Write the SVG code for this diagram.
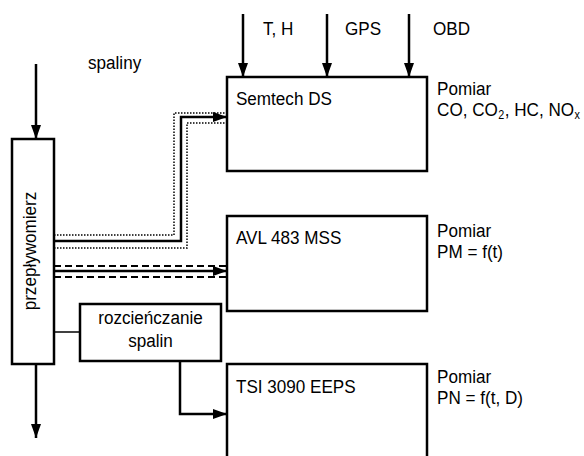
<svg xmlns="http://www.w3.org/2000/svg" width="584" height="456" viewBox="0 0 584 456">
<defs>
<marker id="ah" markerUnits="userSpaceOnUse" markerWidth="14" markerHeight="10" refX="14" refY="5" orient="auto">
<path d="M0,0 L14,5 L0,10 z" fill="#000"/>
</marker>
<style>
text{font-family:"Liberation Sans",Arial,sans-serif;font-size:19px;fill:#000}
.box{fill:#fff;stroke:#000;stroke-width:2.5}
.arr{fill:none;stroke:#000;stroke-width:2.5;marker-end:url(#ah)}
.thin{fill:none;stroke:#000;stroke-width:1.5}
.dot{fill:none;stroke:#000;stroke-width:1.5;stroke-dasharray:1.5 1.5}
.dash{fill:none;stroke:#000;stroke-width:2;stroke-dasharray:7 4}
.sub{font-size:12px}
</style>
</defs>
<rect width="584" height="456" fill="#fff"/>
<g id="connectors">
<path class="arr" d="M36,64 V139"/>
<path class="arr" d="M36,364 V438"/>
<path class="arr" d="M243,14 V77"/>
<path class="arr" d="M327,14 V77"/>
<path class="arr" d="M409,14 V77"/>
<path class="dot" d="M54,235 H174 V113 H227"/>
<path class="arr" d="M54,241 H181 V117 H227"/>
<path class="dot" d="M54,248 H187 V123 H227"/>
<path class="dash" d="M54,266 H227"/>
<path class="arr" d="M54,271 H227"/>
<path class="dash" d="M54,277 H227"/>
<path class="thin" d="M54,332 H80"/>
<path class="arr" d="M180,361 V414 H227"/>
</g>
<g id="labels" transform="scale(0.9 1)">
<text x="97.8" y="69">spaliny</text>
<text x="292.2" y="35">T, H</text>
<text x="383.3" y="35">GPS</text>
<text x="481.1" y="35">OBD</text>
</g>
<g id="przeplywomierz">
<rect class="box" x="12" y="139" width="42" height="225"/>
<text text-anchor="middle" transform="translate(36 251) rotate(-90) scale(0.9 1)">przepływomierz</text>
</g>
<g id="semtech">
<rect class="box" x="227" y="77" width="200" height="94"/>
<g transform="scale(0.9 1)">
<text x="262.2" y="105">Semtech DS</text>
<text x="485.6" y="95">Pomiar</text>
<text x="485.6" y="116" font-size="18">CO, CO<tspan class="sub" dy="3" dx="0.5">2</tspan><tspan dy="-3" dx="0.5">, HC, NO</tspan><tspan class="sub" dy="3" dx="0.5">x</tspan></text>
</g>
</g>
<g id="avl">
<rect class="box" x="227" y="216" width="200" height="95"/>
<g transform="scale(0.9 1)">
<text x="262.2" y="244">AVL 483 MSS</text>
<text x="485.6" y="237">Pomiar</text>
<text x="485.6" y="258">PM = f(t)</text>
</g>
</g>
<g id="rozcienczanie">
<rect class="box" x="80" y="304" width="141" height="57"/>
<g transform="scale(0.9 1)">
<text x="167.2" y="324" text-anchor="middle">rozcieńczanie</text>
<text x="167.2" y="347" text-anchor="middle">spalin</text>
</g>
</g>
<g id="tsi">
<rect class="box" x="227" y="364" width="200" height="100"/>
<g transform="scale(0.9 1)">
<text x="262.2" y="393">TSI 3090 EEPS</text>
<text x="485.6" y="383">Pomiar</text>
<text x="485.6" y="404">PN = f(t, D)</text>
</g>
</g>
</svg>
